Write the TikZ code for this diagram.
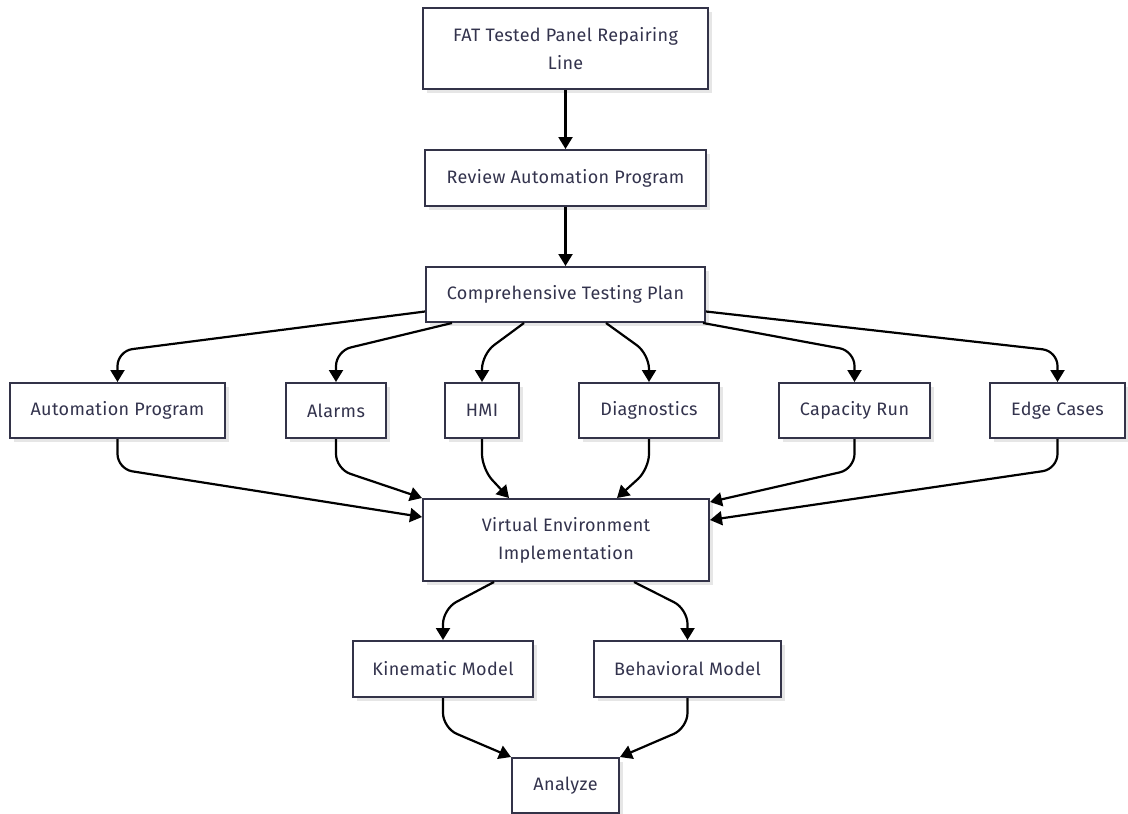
\documentclass[tikz,border=0pt]{standalone}
\usepackage{fontspec}
\setmainfont{Fira Sans}[LetterSpace=2]
\usetikzlibrary{arrows.meta,calc,shadows}
\definecolor{inkline}{HTML}{333348}
\definecolor{inktext}{HTML}{33334D}
\definecolor{shade}{HTML}{E6E6E6}
\begin{document}
\begin{tikzpicture}[x=1pt,y=-1pt,
  box/.style={draw=inkline, line width=2pt, fill=white, align=center,
    text=inktext, font=\fontsize{18}{28}\selectfont, inner sep=0pt,
    minimum height=55pt,
    drop shadow={shadow xshift=4pt, shadow yshift=-4pt, fill=shade, opacity=1}},
  flow/.style={draw=black, line width=2.2pt, rounded corners=15pt,
    -{Triangle[width=14pt,length=12pt]}},
]
\useasboundingbox (0,0) rectangle (1128,814);

% process chain
\node[box, minimum width=285pt, minimum height=81pt] (fat) at (565.5,48.5)
  {FAT Tested Panel Repairing\\Line};
\node[box, minimum width=281pt, minimum height=56pt] (review) at (565.5,178)
  {Review Automation Program};
\node[box, minimum width=279pt] (plan) at (565.5,294.5)
  {Comprehensive Testing Plan};

% test areas
\node[box, minimum width=215pt] (ap)     at (117.5,410.5) {Automation Program};
\node[box, minimum width=100pt] (alarms) at (336,410.5)   {Alarms};
\node[box, minimum width=74pt]  (hmi)    at (482,410.5)   {HMI};
\node[box, minimum width=140pt] (diag)   at (649,410.5)   {Diagnostics};
\node[box, minimum width=151pt] (cap)    at (854.5,410.5) {Capacity Run};
\node[box, minimum width=135pt] (edgec)  at (1057.5,410.5) {Edge Cases};

% virtual environment and models
\node[box, minimum width=286pt, minimum height=82pt] (venv) at (566,540)
  {Virtual Environment\\Implementation};
\node[box, minimum width=180pt, minimum height=56pt] (kin) at (443,669)
  {Kinematic Model};
\node[box, minimum width=187pt, minimum height=56pt] (beh) at (687.5,669)
  {Behavioral Model};
\node[box, minimum width=107pt] (ana) at (565.5,785.5) {Analyze};

% connectors
\draw[flow] (fat) -- (review);
\draw[flow] (review) -- (plan);

\draw[flow] ($(plan.west)+(0,17)$) -- ($(ap.north)+(0,-31)$) -- (ap.north);
\draw[flow] ($(plan.south west)+(27,0)$) -- ($(alarms.north)+(0,-31)$) -- (alarms.north);
\draw[flow] ($(plan.south west)+(99,0)$) -- ($(hmi.north)+(0,-28)$) -- (hmi.north);
\draw[flow] ($(plan.south west)+(181,0)$) -- ($(diag.north)+(0,-28)$) -- (diag.north);
\draw[flow] ($(plan.south east)+(-3,0)$) -- ($(cap.north)+(0,-31)$) -- (cap.north);
\draw[flow] ($(plan.east)+(0,17)$) -- ($(edgec.north)+(0,-31)$) -- (edgec.north);

\draw[flow] (ap.south) -- ($(ap.south)+(0,30)$) -- ($(venv.west)+(0,-23)$);
\draw[flow] (alarms.south) -- ($(alarms.south)+(0,30)$) -- (venv.north west);
\draw[flow] (hmi.south) -- ($(hmi.south)+(0,30)$) -- ($(venv.north west)+(87,0)$);
\draw[flow] (diag.south) -- ($(diag.south)+(0,30)$) -- ($(venv.north west)+(195,0)$);
\draw[flow] (cap.south) -- ($(cap.south)+(0,30)$) -- ($(venv.north east)+(0,4)$);
\draw[flow] (edgec.south) -- ($(edgec.south)+(0,30)$) -- ($(venv.east)+(0,-20)$);

\draw[flow] ($(venv.south west)+(72,0)$) -- ($(kin.north)+(0,-31)$) -- (kin.north);
\draw[flow] ($(venv.south west)+(212,0)$) -- ($(beh.north)+(0,-31)$) -- (beh.north);

\draw[flow] (kin.south) -- ($(kin.south)+(0,30)$) -- (ana.north west);
\draw[flow] (beh.south) -- ($(beh.south)+(0,30)$) -- (ana.north east);
\end{tikzpicture}
\end{document}
